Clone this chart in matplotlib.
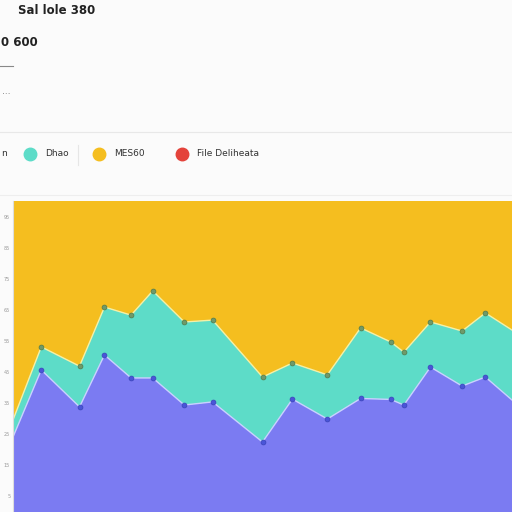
"""Stacked share chart with dashboard header."""
import numpy as np
import matplotlib
matplotlib.use("Agg")
import matplotlib.pyplot as plt
from matplotlib.lines import Line2D

# data (percent share, stacked to 100)
days = [0, 1.7, 4.0, 5.5, 7.1, 8.4, 10.3, 12.0, 15.0, 16.8, 18.9, 20.9, 22.7, 23.5, 25.1, 27.0, 28.4, 30.0]
base = [24.1, 45.7, 33.8, 50.5, 43.1, 43.1, 34.4, 35.4, 22.5, 36.3, 29.9, 36.5, 36.2, 34.4, 46.6, 40.5, 43.4, 36.0]
upper = [29.6, 53.1, 46.9, 65.9, 63.3, 71.1, 61.1, 61.7, 43.4, 47.9, 44.1, 59.2, 54.7, 51.4, 61.1, 58.2, 64.0, 58.5]
ticks = [5, 15, 25, 35, 45, 55, 65, 75, 85, 95]
labels = ["n", "Dhao", "MES60", "File Deliheata"]
title = "Sal lole 380"
subtitle = "0 600"

base = np.array(base)
upper = np.array(upper)
mid = upper - base
top = 100 - upper

c_purple = "#7b7bf2"
c_teal = "#5ddcc8"
c_yellow = "#f5be1f"
c_red = "#e4433b"

fig = plt.figure(figsize=(5.12, 5.12), dpi=100)
fig.patch.set_facecolor("#fbfbfb")

# header text
fig.text(18 / 512, 1 - 11 / 512, title, fontsize=8.5, fontweight="bold", color="#222", va="center")
fig.text(1 / 512, 1 - 42 / 512, subtitle, fontsize=8.5, fontweight="bold", color="#222", va="center")
fig.add_artist(Line2D([0, 13 / 512], [1 - 66 / 512] * 2, color="#888", lw=0.8))
fig.text(2 / 512, 1 - 92 / 512, "\u2026", fontsize=6, color="#666", va="center")
fig.add_artist(Line2D([0, 1], [1 - 132 / 512] * 2, color="#e8e8e8", lw=0.8))
fig.add_artist(Line2D([0, 1], [1 - 195 / 512] * 2, color="#eeeeee", lw=0.8))
fig.add_artist(Line2D([78 / 512] * 2, [1 - 145 / 512, 1 - 165 / 512], color="#e6e6e6", lw=0.8))

# legend row
ly = 1 - 154 / 512
fig.text(1 / 512, ly, labels[0], fontsize=6.5, color="#333", va="center")
for cx, tx, col, lab in [(30, 45, c_teal, labels[1]), (99, 114, c_yellow, labels[2]), (182, 197, c_red, labels[3])]:
    fig.add_artist(Line2D([cx / 512], [ly], marker="o", ms=9, color=col, lw=0))
    fig.text(tx / 512, ly, lab, fontsize=6.5, color="#333", va="center")

ax = fig.add_axes([13 / 512, 0, 499 / 512, 311 / 512])
ax.stackplot(days, base, mid, top, colors=[c_purple, c_teal, c_yellow], lw=0)
ax.plot(days, base, color="#c9d0ff", lw=1.0)
ax.plot(days, upper, color="#f3f0a8", lw=1.0)
ax.plot(days[1:-1], base[1:-1], "o", ms=3.5, color="#4a55d8", mec="#3a44b8", mew=0.5)
ax.plot(days[1:-1], upper[1:-1], "o", ms=3.5, color="#6f9a6a", mec="#4f7a4a", mew=0.5)
ax.set_xlim(days[0], days[-1])
ax.set_ylim(0, 100)
ax.set_xticks([])
ax.set_yticks(ticks)
ax.set_yticklabels([str(v) for v in ticks], fontsize=3.5, color="#999")
ax.tick_params(axis="y", length=0, pad=2)
for s in ["top", "right", "bottom"]:
    ax.spines[s].set_visible(False)
ax.spines["left"].set_color("#dddddd")

fig.savefig("out.png", dpi=100, facecolor=fig.get_facecolor())
